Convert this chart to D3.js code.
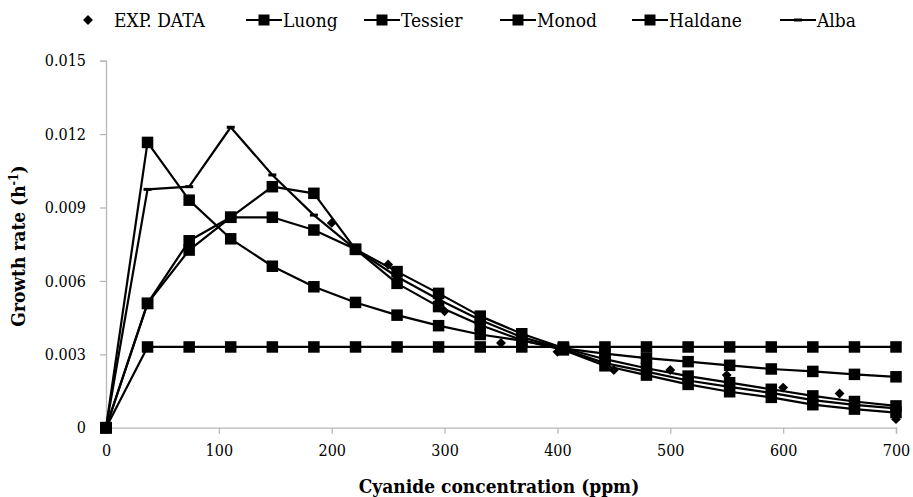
<!DOCTYPE html>
<html>
<head>
<meta charset="utf-8">
<script src="https://cdn.jsdelivr.net/npm/d3@7"></script>
<style>
  body { margin: 0; background: #fff; }
  text { font-family: "DejaVu Serif Condensed", "DejaVu Serif", serif; font-stretch: condensed; fill: #000; }
</style>
</head>
<body>
<div id="chart"></div>
<script>
// model concentrations (ppm)
var conc = [0, 36.8, 73.7, 110.5, 147.4, 184.2, 221.1, 257.9, 294.7, 331.6,
            368.4, 405.3, 442.1, 478.9, 515.8, 552.6, 589.5, 626.3, 663.2, 700];

var luong = [0, 0.00508, 0.00764, 0.0086, 0.0086, 0.00808, 0.00729, 0.00638, 0.00549, 0.00456,
             0.00384, 0.00326, 0.0028, 0.00243, 0.00211, 0.00184, 0.00157, 0.0013, 0.00107, 0.00089];
var tessier = [0, 0.00508, 0.00726, 0.0086, 0.00985, 0.00958, 0.00729, 0.0059, 0.00495, 0.0042,
               0.00358, 0.00318, 0.00253, 0.00215, 0.00177, 0.00147, 0.00124, 0.00094, 0.00076, 0.00062];
var monod = [0, 0.0033, 0.0033, 0.0033, 0.0033, 0.0033, 0.0033, 0.0033, 0.0033, 0.0033,
             0.0033, 0.0033, 0.0033, 0.0033, 0.0033, 0.0033, 0.0033, 0.0033, 0.0033, 0.0033];
var haldane = [0, 0.01166, 0.0093, 0.00772, 0.0066, 0.00576, 0.00512, 0.0046, 0.00417, 0.00381,
               0.00356, 0.00324, 0.00303, 0.00284, 0.0027, 0.00255, 0.0024, 0.0023, 0.00218, 0.00208];
var alba = [0, 0.00974, 0.00985, 0.01228, 0.01033, 0.00869, 0.00729, 0.00617, 0.00524, 0.0044,
            0.0037, 0.00322, 0.00264, 0.00229, 0.00193, 0.00167, 0.00142, 0.00113, 0.00093, 0.00079];

// experimental data
var expConc = [0, 200, 250, 300, 350, 400, 450, 500, 550, 600, 650, 700];
var expRate = [0, 0.00837, 0.00667, 0.00476, 0.00346, 0.0031, 0.00236, 0.00236, 0.00215, 0.00164, 0.0014, 0.00035];

var xTicks = [0, 100, 200, 300, 400, 500, 600, 700];
var yTicks = [0, 0.003, 0.006, 0.009, 0.012, 0.015];
var yTickLabels = ["0", "0.003", "0.006", "0.009", "0.012", "0.015"];

var seriesNames = ["Luong", "Tessier", "Monod", "Haldane", "Alba"];
var seriesValues = [luong, tessier, monod, haldane, alba];

var WIDTH = 913, HEIGHT = 497;
var AXIS_COLOR = "#b8b8b8";
var FONT = "'DejaVu Serif Condensed', 'DejaVu Serif', serif";

var svg = d3.select("#chart").append("svg")
    .attr("width", WIDTH)
    .attr("height", HEIGHT);

var x = d3.scaleLinear().domain([0, 700]).range([106, 896]);
var y = d3.scaleLinear().domain([0, 0.015]).range([427.7, 60.7]);

// axes
var yAxis = d3.axisLeft(y)
    .tickValues(yTicks)
    .tickSize(6)
    .tickPadding(14)
    .tickFormat(function (d, i) { return yTickLabels[i]; });

var xAxis = d3.axisBottom(x)
    .tickValues(xTicks)
    .tickSize(6)
    .tickPadding(11)
    .tickFormat(d3.format("d"));

var gy = svg.append("g").attr("transform", "translate(106,0)").call(yAxis);
var gx = svg.append("g").attr("transform", "translate(0,427.7)").call(xAxis);

[gx, gy].forEach(function (g) {
    g.attr("font-family", null);
    g.select(".domain").attr("stroke", AXIS_COLOR).attr("stroke-width", 1.3);
    g.selectAll(".tick line").attr("stroke", AXIS_COLOR).attr("stroke-width", 1.3);
    g.selectAll(".tick text")
        .attr("fill", "#000")
        .style("font-family", FONT)
        .style("font-size", "16px");
});

// axis titles
svg.append("text")
    .attr("x", 499)
    .attr("y", 493)
    .attr("text-anchor", "middle")
    .style("font-weight", "bold")
    .style("font-size", "19px")
    .text("Cyanide concentration (ppm)");

var yTitle = svg.append("text")
    .attr("transform", "translate(25,246)rotate(-90)")
    .attr("text-anchor", "middle")
    .style("font-weight", "bold")
    .style("font-size", "19px");
yTitle.append("tspan").text("Growth rate (h");
yTitle.append("tspan").attr("dy", -7).style("font-size", "12px").text("-1");
yTitle.append("tspan").attr("dy", 7).text(")");

var plot = svg.append("g").attr("id", "plot");

var line = d3.line()
    .x(function (d) { return x(d[0]); })
    .y(function (d) { return y(d[1]); });

var diamond = d3.symbol().type(d3.symbolDiamond2).size(62);

// experimental points first
plot.selectAll("path.exp")
    .data(d3.zip(expConc, expRate))
    .enter().append("path")
    .attr("class", "exp")
    .attr("d", diamond)
    .attr("transform", function (d) { return "translate(" + x(d[0]) + "," + y(d[1]) + ")"; })
    .attr("fill", "#000");

seriesValues.forEach(function (vals, s) {
    var pts = d3.zip(conc, vals);
    var g = plot.append("g").attr("class", "series " + seriesNames[s]);

    g.append("path")
        .datum(pts)
        .attr("d", line)
        .attr("fill", "none")
        .attr("stroke", "#000")
        .attr("stroke-width", 2.2)
        .attr("stroke-linejoin", "round");

    if (seriesNames[s] == "Alba") {
        g.selectAll("rect")
            .data(pts).enter().append("rect")
            .attr("x", function (d) { return x(d[0]) - 4; })
            .attr("y", function (d) { return y(d[1]) - 1.5; })
            .attr("width", 8)
            .attr("height", 3)
            .attr("fill", "#000");
    } else {
        g.selectAll("rect")
            .data(pts).enter().append("rect")
            .attr("x", function (d) { return x(d[0]) - 5.75; })
            .attr("y", function (d) { return y(d[1]) - 5.75; })
            .attr("width", 11.5)
            .attr("height", 11.5)
            .attr("fill", "#000");
    }
});

// legend
var legend = svg.append("g").attr("id", "legend");
var LEG_Y = 20, KEY_W = 36;
var keyX = [70, 246, 364, 500, 632, 780];   // left edge of each key

legend.append("path")
    .attr("d", diamond)
    .attr("transform", "translate(" + (keyX[0] + KEY_W / 2) + "," + LEG_Y + ")")
    .attr("fill", "#000");
legend.append("text")
    .attr("x", keyX[0] + KEY_W + 8)
    .attr("y", LEG_Y + 6.5)
    .style("font-size", "19px")
    .text("EXP. DATA");

seriesNames.forEach(function (name, i) {
    var lx = keyX[i + 1];
    legend.append("line")
        .attr("x1", lx).attr("x2", lx + KEY_W)
        .attr("y1", LEG_Y).attr("y2", LEG_Y)
        .attr("stroke", "#000")
        .attr("stroke-width", 2.2);
    if (name == "Alba") {
        legend.append("rect")
            .attr("x", lx + KEY_W / 2 - 4).attr("y", LEG_Y - 1.5)
            .attr("width", 8).attr("height", 3)
            .attr("fill", "#000");
    } else {
        legend.append("rect")
            .attr("x", lx + KEY_W / 2 - 5.5).attr("y", LEG_Y - 5.5)
            .attr("width", 11).attr("height", 11)
            .attr("fill", "#000");
    }
    legend.append("text")
        .attr("x", lx + KEY_W + 1)
        .attr("y", LEG_Y + 6.5)
        .style("font-size", "19px")
        .text(name);
});
</script>
</body>
</html>
